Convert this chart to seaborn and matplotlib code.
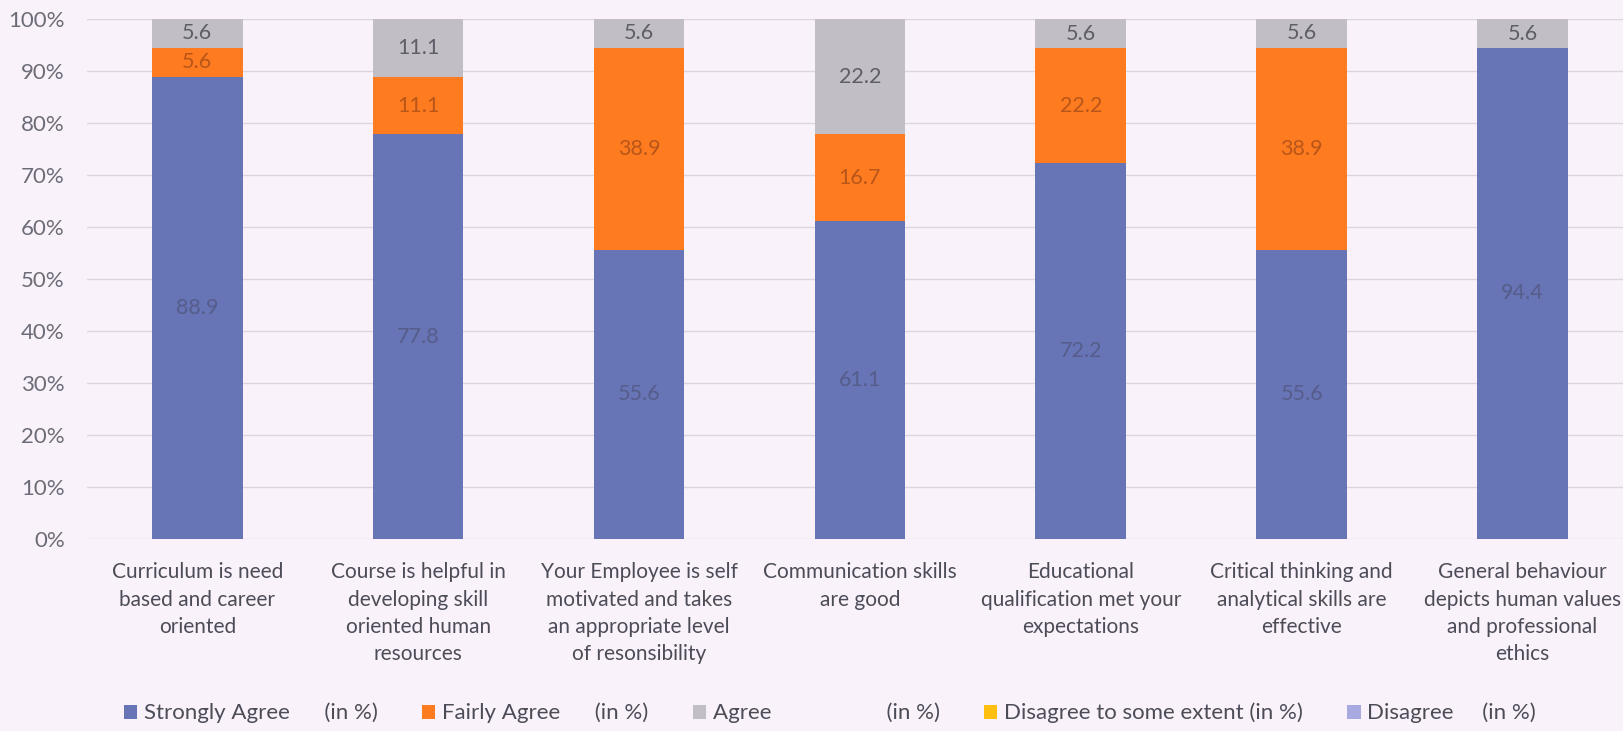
import numpy as np
import pandas as pd
import matplotlib.pyplot as plt
import seaborn as sns
from matplotlib.patches import Patch

# data
categories = [
    "Curriculum is need\nbased and career\noriented",
    "Course is helpful in\ndeveloping skill\noriented human\nresources",
    "Your Employee is self\nmotivated and takes\nan appropriate level\nof resonsibility",
    "Communication skills\nare good",
    "Educational\nqualification met your\nexpectations",
    "Critical thinking and\nanalytical skills are\neffective",
    "General behaviour\ndepicts human values\nand professional\nethics",
]
strongly_agree = [88.9, 77.8, 55.6, 61.1, 72.2, 55.6, 94.4]
fairly_agree = [5.6, 11.1, 38.9, 16.7, 22.2, 38.9, 0.0]
agree = [5.6, 11.1, 5.6, 22.2, 5.6, 5.6, 5.6]
disagree_some = [0, 0, 0, 0, 0, 0, 0]
disagree = [0, 0, 0, 0, 0, 0, 0]

series_names = [
    "Strongly Agree      (in %)",
    "Fairly Agree      (in %)",
    "Agree                    (in %)",
    "Disagree to some extent (in %)",
    "Disagree     (in %)",
]
series_values = [strongly_agree, fairly_agree, agree, disagree_some, disagree]
colors = ["#6774b6", "#ff7b1f", "#c2bec6", "#ffbf10", "#a9a9e2"]
label_colors = ["#565d8a", "#b8561a", "#5e5e68", "#806010", "#5e5e80"]

bg = "#faf2fa"
sns.set_theme(style="white")
plt.rcParams["font.family"] = ["Lato", "DejaVu Sans"]

fig = plt.figure(figsize=(16.24, 7.31), dpi=100, facecolor=bg)
ax = fig.add_axes([0.0535, 0.263, 0.952, 0.711])
ax.set_facecolor(bg)

df = pd.DataFrame({"category": categories})
bottom = np.zeros(len(categories))
for name, vals, col, lc in zip(series_names, series_values, colors, label_colors):
    vals = np.array(vals, dtype=float)
    df["value"] = vals
    sns.barplot(data=df, x="category", y="value", color=col, width=0.41,
                bottom=bottom, ax=ax, saturation=1, errorbar=None, zorder=3,
                linewidth=0)
    for i, v in enumerate(vals):
        if v > 0:
            ax.text(i, bottom[i] + v / 2, f"{v:.1f}", ha="center", va="center",
                    fontsize=15.5, color=lc, zorder=4)
    bottom = bottom + vals

ax.set_ylim(0, 100)
ax.set_xlim(-0.5, 6.5)
ax.set_yticks(np.arange(0, 101, 10))
ax.set_yticklabels([f"{t}%" for t in range(0, 101, 10)], fontsize=16, color="#6c6c78")
ax.tick_params(axis="x", labelsize=15, labelcolor="#4c4c58", length=0, pad=17)
ax.tick_params(axis="y", length=0, pad=16)
for lab in ax.get_xticklabels():
    lab.set_linespacing(1.45)
ax.set_xlabel("")
ax.set_ylabel("")
ax.yaxis.grid(True, color="#dcd6dc", linewidth=1, zorder=0)
for s in ax.spines.values():
    s.set_visible(False)

handles = [Patch(facecolor=c, edgecolor="none") for c in colors]
fig.legend(handles, series_names, loc="lower center", bbox_to_anchor=(0.511, -0.017),
           ncol=5, frameon=False, fontsize=16, handlelength=0.6, handleheight=0.6,
           handletextpad=0.3, columnspacing=2.0, labelcolor="#4c4c58")

plt.savefig("out.png", dpi=100, facecolor=bg)
